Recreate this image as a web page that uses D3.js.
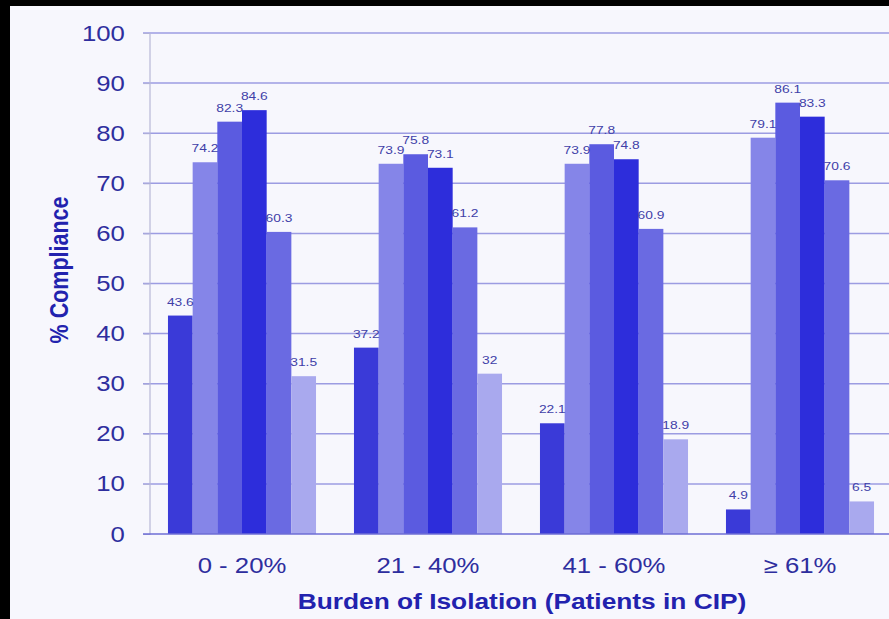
<!DOCTYPE html>
<html>
<head>
<meta charset="utf-8">
<script src="https://cdn.jsdelivr.net/npm/d3@7"></script>
<style>
  html, body { margin: 0; padding: 0; background: #000; }
  svg { display: block; }
</style>
</head>
<body>
<svg id="chart" width="889" height="619"></svg>
<script>
// Compliance by burden of isolation, six measures per group
const categories = ["0 - 20%", "21 - 40%", "41 - 60%", "\u2265 61%"];
const series1 = [43.6, 37.2, 22.1, 4.9];
const series2 = [74.2, 73.9, 73.9, 79.1];
const series3 = [82.3, 75.8, 77.8, 86.1];
const series4 = [84.6, 73.1, 74.8, 83.3];
const series5 = [60.3, 61.2, 60.9, 70.6];
const series6 = [31.5, 32, 18.9, 6.5];
const yTicks = [0, 10, 20, 30, 40, 50, 60, 70, 80, 90, 100];

const seriesList = [series1, series2, series3, series4, series5, series6];
const seriesColors = ["#3a3ad8", "#8585e8", "#5b5be0", "#2d2ddb", "#6a6ae2", "#a9a9ee"];

const svg = d3.select("#chart");
const W = 889, H = 619;
const FONT = "'Liberation Sans', Arial, sans-serif";
const WIDE = 1.17; // text is drawn slightly widened

// page background with dark frame on top and left
svg.append("rect").attr("x", 0).attr("y", 0).attr("width", W).attr("height", H).attr("fill", "#000");
svg.append("rect").attr("x", 10).attr("y", 6).attr("width", W - 10).attr("height", H - 6).attr("fill", "#f7f7fd");

const x = d3.scaleBand()
  .domain(categories)
  .range([149, 893])
  .paddingInner(0.204)
  .paddingOuter(0.102);

const x1 = d3.scaleBand()
  .domain(d3.range(seriesList.length))
  .range([0, x.bandwidth()]);

const y = d3.scaleLinear().domain([0, 100]).range([534, 33]);

// horizontal gridlines
svg.append("g")
  .selectAll("line")
  .data(yTicks.filter(t => t > 0))
  .join("line")
  .attr("x1", 143).attr("x2", W)
  .attr("y1", d => y(d)).attr("y2", d => y(d))
  .attr("stroke", "#9c9ce2")
  .attr("stroke-width", 1.5);

// y axis with labels
const yAxis = d3.axisLeft(y).tickValues(yTicks).tickSize(6).tickPadding(15).tickFormat(d3.format("d"));
const gy = svg.append("g").attr("transform", "translate(149.5,0)").call(yAxis);
gy.select(".domain").attr("stroke", "#b8b8d8").attr("stroke-width", 1.2);
gy.selectAll(".tick line").attr("stroke", "#b0b0d8");
gy.selectAll(".tick text")
  .attr("fill", "#2e2e9e")
  .attr("font-family", FONT)
  .attr("font-size", 22)
  .attr("transform", `scale(${WIDE},1)`);

// bars
const groups = svg.append("g")
  .selectAll("g")
  .data(categories)
  .join("g")
  .attr("transform", d => `translate(${x(d)},0)`);

groups.selectAll("rect")
  .data((c, ci) => seriesList.map((s, si) => ({ si, v: s[ci] })))
  .join("rect")
  .attr("x", d => x1(d.si))
  .attr("width", x1.bandwidth())
  .attr("y", d => y(d.v))
  .attr("height", d => y(0) - y(d.v))
  .attr("fill", d => seriesColors[d.si]);

// value labels
groups.selectAll("text")
  .data((c, ci) => seriesList.map((s, si) => ({ si, v: s[ci] })))
  .join("text")
  .attr("transform", d => `translate(${x1(d.si) + x1.bandwidth() / 2},${y(d.v) - 10}) scale(1.2,1)`)
  .attr("text-anchor", "middle")
  .attr("fill", "#4040a8")
  .attr("font-family", FONT)
  .attr("font-size", 11.5)
  .text(d => d.v);

// baseline
svg.append("line")
  .attr("x1", 143).attr("x2", W)
  .attr("y1", y(0)).attr("y2", y(0))
  .attr("stroke", "#6e6ed4")
  .attr("stroke-width", 1.5);

// x axis labels
const xAxis = d3.axisBottom(x).tickSize(0).tickPadding(23);
const gx = svg.append("g").attr("transform", `translate(0,${y(0)})`).call(xAxis);
gx.select(".domain").remove();
gx.selectAll(".tick text")
  .attr("fill", "#2e2e9e")
  .attr("font-family", FONT)
  .attr("font-size", 22)
  .attr("transform", `scale(${WIDE},1)`);

// axis titles
svg.append("text")
  .attr("transform", `translate(522,609) scale(${WIDE},1)`)
  .attr("text-anchor", "middle")
  .attr("fill", "#2222ae")
  .attr("font-family", FONT)
  .attr("font-size", 22.5)
  .attr("font-weight", "bold")
  .text("Burden of Isolation (Patients in CIP)");

svg.append("text")
  .attr("transform", `translate(68,270) scale(${WIDE},1) rotate(-90)`)
  .attr("text-anchor", "middle")
  .attr("fill", "#2222ae")
  .attr("font-family", FONT)
  .attr("font-size", 21.5)
  .attr("font-weight", "bold")
  .text("% Compliance");
</script>
</body>
</html>
